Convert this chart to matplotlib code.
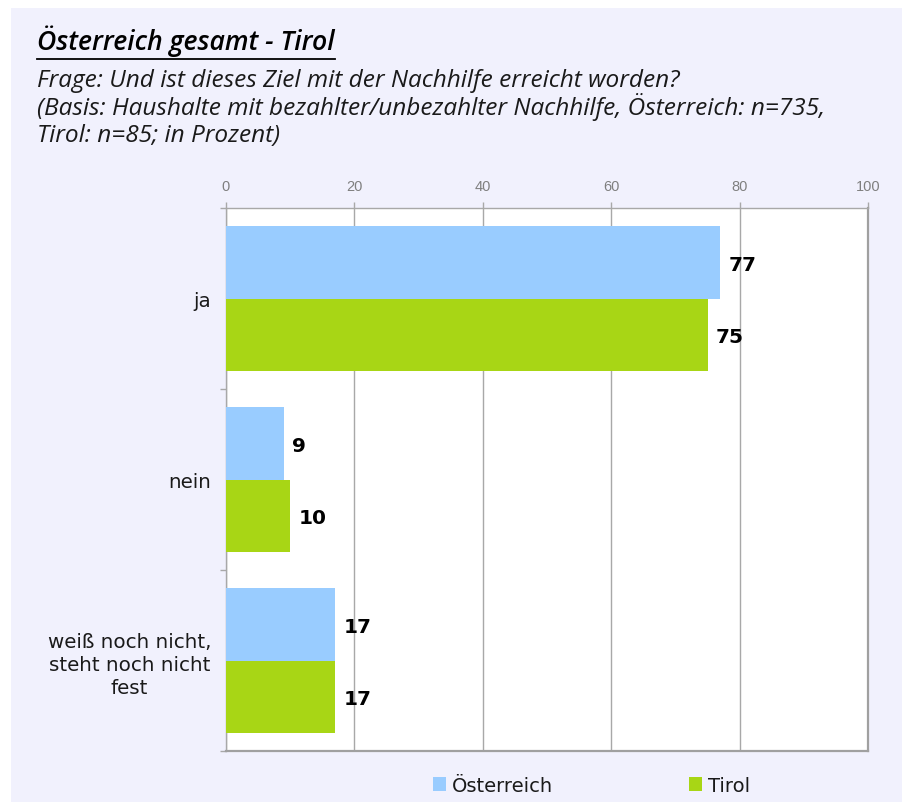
import matplotlib
matplotlib.use("Agg")
import matplotlib.pyplot as plt
from matplotlib.patches import Rectangle, Patch
from matplotlib.lines import Line2D
import numpy as np

categories = ["ja", "nein", "weiß noch nicht,\nsteht noch nicht\nfest"]
oesterreich = [77, 9, 17]
tirol = [75, 10, 17]
series_names = ["Österreich", "Tirol"]
xticks = [0, 20, 40, 60, 80, 100]

title = "Österreich gesamt - Tirol"
subtitle_lines = [
    "Frage: Und ist dieses Ziel mit der Nachhilfe erreicht worden?",
    "(Basis: Haushalte mit bezahlter/unbezahlter Nachhilfe, Österreich: n=735,",
    "Tirol: n=85; in Prozent)",
]

C_BLUE = "#99CCFF"
C_GREEN = "#A8D615"
C_BG = "#F1F1FD"
C_GRID = "#A8A8A8"

W, H = 902, 803
fig = plt.figure(figsize=(W / 100, H / 100), dpi=100, facecolor="white")

# lavender panel
fig.patches.append(Rectangle((11 / W, 0), 1 - 11 / W, 1 - 9 / H, transform=fig.transFigure,
                             facecolor=C_BG, edgecolor="none", zorder=-10))

ax = fig.add_axes([226 / W, 1 - 752 / H, (868 - 226) / W, (752 - 209) / H])
ax.set_facecolor("white")

y = np.arange(len(categories))
h = 0.4
ax.barh(y - 0.2, oesterreich, height=h, color=C_BLUE, label=series_names[0], zorder=3)
ax.barh(y + 0.2, tirol, height=h, color=C_GREEN, label=series_names[1], zorder=3)

for vals, off in ((oesterreich, -0.2), (tirol, 0.2)):
    for yi, v in zip(y, vals):
        ax.annotate(str(v), (v, yi + off), xytext=(6.2, 0), textcoords="offset points",
                    ha="left", va="center_baseline", fontsize=14.5, fontweight="bold",
                    family="DejaVu Sans", color="black", zorder=4)

ax.set_xlim(0, 100)
ax.set_ylim(2.5, -0.5)
ax.xaxis.tick_top()
ax.set_xticks(xticks)
ax.set_xticklabels([str(t) for t in xticks], fontsize=10.5, color="#7F7F7F", family="Liberation Sans")
ax.tick_params(axis="x", direction="out", length=4.5, width=1, color=C_GRID, pad=6.5)
ax.grid(axis="x", color=C_GRID, linewidth=1, zorder=1)

ax.set_yticks(y)
ax.set_yticklabels(categories, fontsize=14.3, family="DejaVu Sans", color="#1A1A1A", linespacing=1.25)
for lbl in ax.get_yticklabels():
    lbl.set_multialignment("center")
ax.tick_params(axis="y", which="major", length=0, pad=10.8)
ax.set_yticks([-0.5, 0.5, 1.5, 2.5], minor=True)
ax.tick_params(axis="y", which="minor", direction="out", length=4.5, width=1, color=C_GRID)

for s in ["top", "left"]:
    ax.spines[s].set_color(C_GRID)
    ax.spines[s].set_linewidth(1)
for s in ["right", "bottom"]:
    ax.spines[s].set_color("#A0A0A0")
    ax.spines[s].set_linewidth(1.6)

# titles
t = fig.text(37 / W, 1 - 50 / H, title, fontsize=19.2, fontweight="semibold", style="italic",
             family="Open Sans", color="black", va="baseline", ha="left")
sub_y = [87, 115, 142]
for line, yy in zip(subtitle_lines, sub_y):
    fig.text(37 / W, 1 - yy / H, line, fontsize=17.6, style="italic", family="Open Sans",
             color="#1A1A1A", va="baseline", ha="left")

fig.canvas.draw()
bb = t.get_window_extent(fig.canvas.get_renderer())
uy = 1 - 59.5 / H
fig.add_artist(Line2D([bb.x0 / W, bb.x1 / W], [uy, uy], transform=fig.transFigure,
                      color="black", linewidth=1.3))

handles = [Patch(facecolor=C_BLUE, edgecolor="none"), Patch(facecolor=C_GREEN, edgecolor="none")]
fig.legend(handles, series_names, loc="center left", bbox_to_anchor=(433 / W, 1 - 786.5 / H),
           ncol=2, frameon=False, prop={"family": "DejaVu Sans", "size": 14},
           handlelength=0.67, handleheight=0.77, handletextpad=0.3, columnspacing=7.0,
           borderpad=0, borderaxespad=0, labelcolor="#1A1A1A")

fig.savefig("out.png", dpi=100, facecolor="white")
